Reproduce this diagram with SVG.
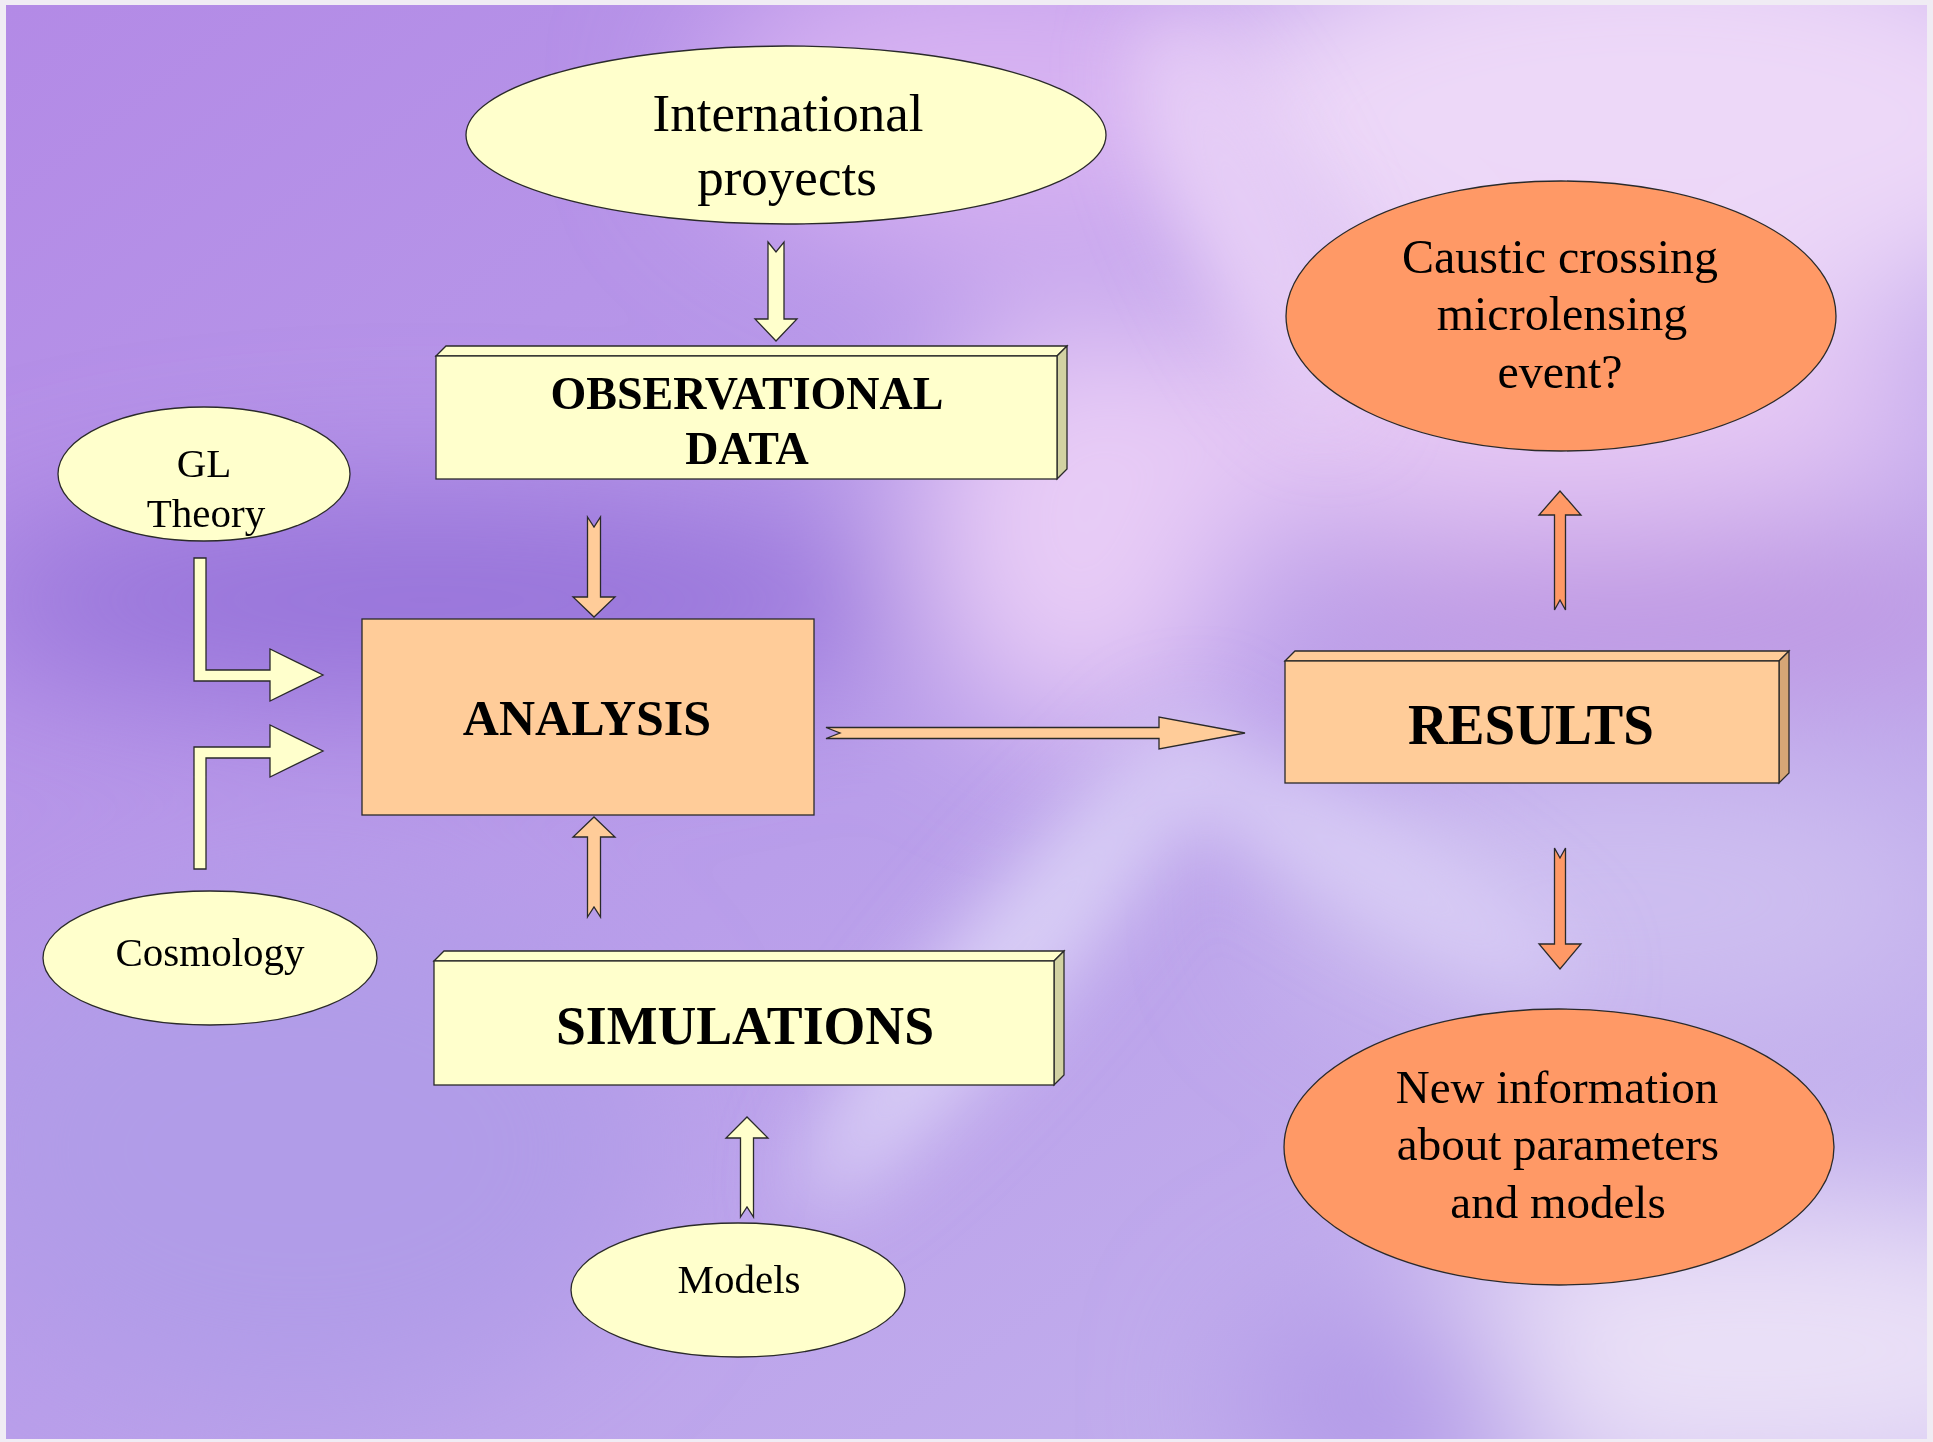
<svg xmlns="http://www.w3.org/2000/svg" width="1933" height="1442" viewBox="0 0 1933 1442">
<defs>
<style>
.ol{stroke:#2a2a2a;stroke-width:1.3}
.yel{fill:#FFFFCC}
.pch{fill:#FFCC99}
.org{fill:#FF9966}
.yside{fill:#D2D2A2}
.pside{fill:#D6A676}
.t{font-family:"Liberation Serif","Times New Roman",serif;fill:#000;text-anchor:middle}
.b{font-weight:bold}
</style>
<linearGradient id="bgbase" x1="0" y1="0" x2="1" y2="1">
<stop offset="0" stop-color="#B38AE6"/>
<stop offset="0.5" stop-color="#B99EEA"/>
<stop offset="1" stop-color="#C6B6EE"/>
</linearGradient>
<filter id="blur" x="-50%" y="-50%" width="200%" height="200%"><feGaussianBlur stdDeviation="70"/></filter>
<filter id="blur2" x="-50%" y="-50%" width="200%" height="200%"><feGaussianBlur stdDeviation="40"/></filter>
<clipPath id="bgclip"><rect x="6" y="5" width="1921" height="1434"/></clipPath>
</defs>

<g id="background">
<rect x="0" y="0" width="1933" height="1442" fill="#F0ECF4"/>
<g clip-path="url(#bgclip)">
<rect x="6" y="5" width="1921" height="1434" fill="url(#bgbase)"/>
<g filter="url(#blur)">
<ellipse cx="1000" cy="100" rx="300" ry="150" fill="#D7B2F2"/>
<ellipse cx="1650" cy="120" rx="460" ry="220" fill="#EDD8F8"/>
<ellipse cx="1500" cy="420" rx="460" ry="110" fill="#E6C8F4"/>
<ellipse cx="1080" cy="520" rx="160" ry="210" fill="#E8CCF6"/>
<ellipse cx="430" cy="600" rx="480" ry="110" fill="#9874DA"/>
<ellipse cx="1680" cy="615" rx="380" ry="70" fill="#BF96E2"/>
<ellipse cx="1620" cy="900" rx="340" ry="140" fill="#CDBEF0"/>
<ellipse cx="1750" cy="1350" rx="400" ry="150" fill="#EAE0F7"/>
<ellipse cx="1380" cy="1400" rx="150" ry="110" fill="#B29AE8"/>
<ellipse cx="300" cy="1150" rx="350" ry="250" fill="#B19CE8"/>
</g>
<g filter="url(#blur2)">
<ellipse cx="1010" cy="960" rx="55" ry="320" fill="#DAD0F6" transform="rotate(40 1010 960)"/>
<ellipse cx="1360" cy="860" rx="50" ry="250" fill="#D8CCF5" transform="rotate(-60 1360 860)"/>
<ellipse cx="1250" cy="220" rx="60" ry="220" fill="#E6CEF6" transform="rotate(-25 1250 220)"/>
</g>
</g>
</g>

<g id="connectors">
<path class="ol yel" d="M768,242 L776,252 L784,242 L784,319 L797,319 L776,341 L755,319 L768,319 Z"/>
<path class="ol pch" d="M587.5,517 L594,527 L600.5,517 L600.5,597 L615,597 L594,617 L573,597 L587.5,597 Z"/>
<path class="ol pch" d="M587.5,917 L594,907 L600.5,917 L600.5,837 L615,837 L594,817 L573,837 L587.5,837 Z"/>
<path class="ol yel" d="M740.5,1217 L747,1207 L753.5,1217 L753.5,1138 L768,1138 L747,1117 L726,1138 L740.5,1138 Z"/>
<path class="ol org" d="M1554.5,610 L1560,600 L1565.5,610 L1565.5,515 L1581,515 L1560,491 L1539,515 L1554.5,515 Z"/>
<path class="ol org" d="M1554.5,848 L1560,858 L1565.5,848 L1565.5,944 L1581,944 L1560,969 L1539,944 L1554.5,944 Z"/>
<path class="ol pch" d="M826,727.5 L1159,727.5 L1159,717 L1245,733 L1159,749 L1159,738.5 L826,738.5 L840,733 Z"/>
<path class="ol yel" d="M194,558 L206,558 L206,670 L270,670 L270,649 L323,675 L270,701 L270,681 L194,681 Z"/>
<path class="ol yel" d="M194,869 L194,747 L270,747 L270,725 L323,751 L270,777 L270,758 L206,758 L206,869 Z"/>
</g>

<g id="intl">
<ellipse class="ol yel" cx="786" cy="135" rx="320" ry="89"/>
<text class="t" x="788" y="131" font-size="53">International</text>
<text class="t" x="787" y="195" font-size="53">proyects</text>
</g>

<g id="obsdata">
<polygon class="ol yel" points="436,356 446,346 1067,346 1057,356"/>
<polygon class="ol yside" points="1057,356 1067,346 1067,469 1057,479"/>
<rect class="ol yel" x="436" y="356" width="621" height="123"/>
<text class="t b" x="747" y="409" font-size="46">OBSERVATIONAL</text>
<text class="t b" x="747" y="464" font-size="46">DATA</text>
</g>

<g id="gltheory">
<ellipse class="ol yel" cx="204" cy="474" rx="146" ry="67"/>
<text class="t" x="204" y="477" font-size="41">GL</text>
<text class="t" x="206" y="527" font-size="41">Theory</text>
</g>

<g id="analysis">
<rect class="ol pch" x="362" y="619" width="452" height="196"/>
<text class="t b" x="587" y="735" font-size="50">ANALYSIS</text>
</g>

<g id="cosmology">
<ellipse class="ol yel" cx="210" cy="958" rx="167" ry="67"/>
<text class="t" x="210" y="966" font-size="41">Cosmology</text>
</g>

<g id="simulations">
<polygon class="ol yel" points="434,961 444,951 1064,951 1054,961"/>
<polygon class="ol yside" points="1054,961 1064,951 1064,1075 1054,1085"/>
<rect class="ol yel" x="434" y="961" width="620" height="124"/>
<text class="t b" x="745" y="1044" font-size="55" textLength="378" lengthAdjust="spacingAndGlyphs">SIMULATIONS</text>
</g>

<g id="models">
<ellipse class="ol yel" cx="738" cy="1290" rx="167" ry="67"/>
<text class="t" x="739" y="1293" font-size="41">Models</text>
</g>

<g id="results">
<polygon class="ol pch" points="1285,661 1295,651 1789,651 1779,661"/>
<polygon class="ol pside" points="1779,661 1789,651 1789,773 1779,783"/>
<rect class="ol pch" x="1285" y="661" width="494" height="122"/>
<text class="t b" x="1531" y="744" font-size="56" textLength="246" lengthAdjust="spacingAndGlyphs">RESULTS</text>
</g>

<g id="caustic">
<ellipse class="ol org" cx="1561" cy="316" rx="275" ry="135"/>
<text class="t" x="1560" y="273" font-size="48">Caustic crossing</text>
<text class="t" x="1562" y="330" font-size="48">microlensing</text>
<text class="t" x="1560" y="388" font-size="48">event?</text>
</g>

<g id="newinfo">
<ellipse class="ol org" cx="1559" cy="1147" rx="275" ry="138"/>
<text class="t" x="1557" y="1103" font-size="47">New information</text>
<text class="t" x="1558" y="1160" font-size="47">about parameters</text>
<text class="t" x="1558" y="1218" font-size="47">and models</text>
</g>
</svg>
